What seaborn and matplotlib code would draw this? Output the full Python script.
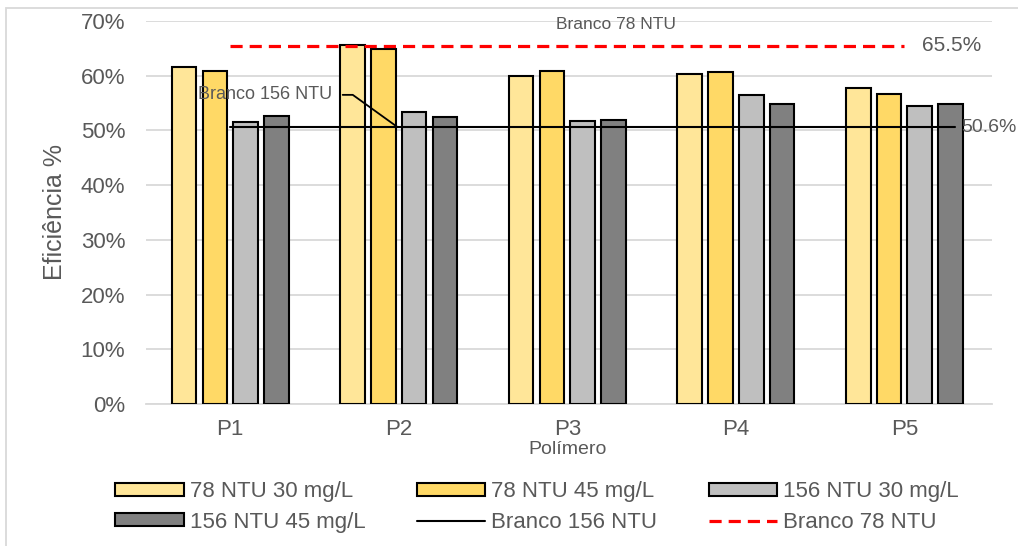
import matplotlib
matplotlib.use("Agg")
import matplotlib.pyplot as plt
from matplotlib.patches import Patch, Rectangle
from matplotlib.lines import Line2D
import pandas as pd
import seaborn as sns

# Eficiência de remoção (%) por polímero e condição de ensaio
polimeros = ["P1", "P2", "P3", "P4", "P5"]
series = ["78 NTU 30 mg/L", "78 NTU 45 mg/L", "156 NTU 30 mg/L", "156 NTU 45 mg/L"]
ntu78_30 = [61.6, 65.6, 60.0, 60.4, 57.7]
ntu78_45 = [60.9, 64.8, 60.9, 60.6, 56.7]
ntu156_30 = [51.6, 53.3, 51.7, 56.4, 54.5]
ntu156_45 = [52.7, 52.5, 51.9, 54.8, 54.9]
branco_78 = 65.5
branco_156 = 50.6
yticks = [0, 10, 20, 30, 40, 50, 60, 70]

cores = {
    "78 NTU 30 mg/L": "#FFE699",
    "78 NTU 45 mg/L": "#FFD966",
    "156 NTU 30 mg/L": "#BFBFBF",
    "156 NTU 45 mg/L": "#808080",
}
cinza_txt = "#595959"
cinza_grade = "#D9D9D9"

valores = [ntu78_30, ntu78_45, ntu156_30, ntu156_45]
linhas = []
for nome, vals in zip(series, valores):
    for p, v in zip(polimeros, vals):
        linhas.append({"Polímero": p, "Série": nome, "Eficiência": v})
df = pd.DataFrame(linhas)

sns.set_theme(style="white")
plt.rcParams["font.family"] = ["Liberation Sans", "DejaVu Sans"]

fig = plt.figure(figsize=(10.18, 5.46), dpi=100)
ax = fig.add_axes([146 / 1018, 1 - 404 / 546, (992 - 146) / 1018, (404 - 21) / 546])

sns.barplot(
    data=df, x="Polímero", y="Eficiência", hue="Série",
    order=polimeros, hue_order=series, palette=cores, saturation=1,
    width=0.73, gap=0.2, edgecolor="black", linewidth=1.5,
    legend=False, ax=ax, zorder=3,
)

# Linhas de referência (ensaios em branco)
ax.plot([0, 4], [branco_78, branco_78], color="#FF0000", lw=2.3,
        dashes=(3.8, 2.2), zorder=4)
ax.plot([0, 4.3], [branco_156, branco_156], color="black", lw=1.5, zorder=4)

ax.text(4.28, branco_78, f"{branco_78:.1f}%", ha="center", va="center",
        fontsize=15, color=cinza_txt)
ax.text(4.34, branco_156, f"{branco_156:.1f}%", ha="left", va="center",
        fontsize=14, color=cinza_txt, clip_on=False)
ax.text(2.29, 69.3, "Branco 78 NTU", ha="center", va="center",
        fontsize=12.5, color=cinza_txt, zorder=5)
ax.text(0.602, 56.5, "Branco 156 NTU", ha="right", va="center",
        fontsize=13, color=cinza_txt, zorder=5)
ax.plot([0.667, 0.727, 0.993], [56.5, 56.5, branco_156], color="black",
        lw=1.3, zorder=5)

ax.set_xlim(-0.5, 4.52)
ax.set_ylim(0, 70)
ax.set_yticks(yticks)
ax.set_yticklabels([f"{t}%" for t in yticks])
ax.yaxis.grid(True, color=cinza_grade, lw=1.3, zorder=0)
ax.set_axisbelow(True)
for s in ["top", "right", "left"]:
    ax.spines[s].set_visible(False)
ax.spines["bottom"].set_color(cinza_grade)
ax.spines["bottom"].set_linewidth(1.3)
ax.tick_params(axis="y", length=0, pad=15, labelsize=16, labelcolor=cinza_txt)
ax.tick_params(axis="x", length=0, pad=11, labelsize=16, labelcolor=cinza_txt)
ax.set_xlabel("")
ax.set_ylabel("")

fig.text(55 / 1018, 1 - 212 / 546, "Eficiência %", rotation=90, ha="center",
         va="center", fontsize=18, color=cinza_txt)
fig.text(568 / 1018, 1 - 450 / 546, "Polímero", ha="center", va="center",
         fontsize=14, color=cinza_txt)

# Legenda em 3 colunas, preenchida por linha
h = [Patch(facecolor=cores[s], edgecolor="black", linewidth=1.5) for s in series]
h.append(Line2D([], [], color="black", lw=1.5))
h.append(Line2D([], [], color="#FF0000", lw=2.3, dashes=(3.8, 2.2)))
rotulos = series + ["Branco 156 NTU", "Branco 78 NTU"]
ordem = [0, 3, 1, 4, 2, 5]
leg = fig.legend(
    [h[i] for i in ordem], [rotulos[i] for i in ordem],
    ncol=3, loc="center", bbox_to_anchor=(537 / 1018, 1 - 507 / 546),
    frameon=False, fontsize=16, handlelength=3.1, handleheight=0.5,
    handletextpad=0.27, columnspacing=2.3, labelspacing=0.42,
)
for t in leg.get_texts():
    t.set_color(cinza_txt)

# Contorno da área do gráfico
fig.patches.append(Rectangle((6 / 1018, -0.05), 1.1, 1 - 8 / 546 + 0.05,
                             transform=fig.transFigure, fill=False,
                             edgecolor=cinza_grade, lw=1.3, zorder=0))

fig.savefig("out.png", dpi=100)
